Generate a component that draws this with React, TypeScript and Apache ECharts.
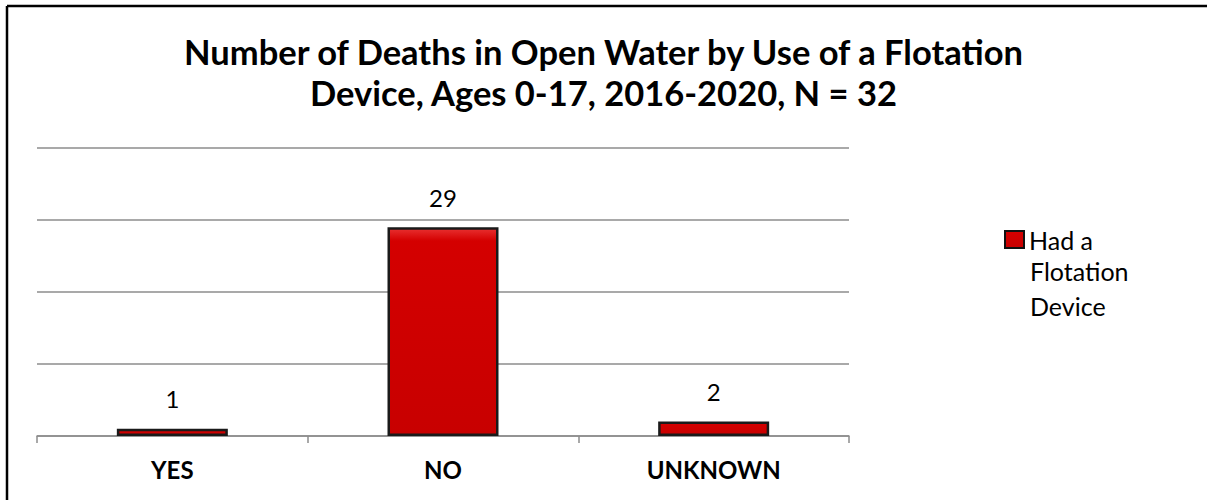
import React, { useEffect, useRef } from "react";
import * as echarts from "echarts";

const categories = ["YES", "NO", "UNKNOWN"];
const values = [1, 29, 2];
const seriesName = "Had a Flotation Device";
const titleText = "Number of Deaths in Open Water by Use of a Flotation\nDevice, Ages 0-17, 2016-2020, N = 32";

export default function App() {
  const ref = useRef<HTMLDivElement>(null);
  useEffect(() => {
    if (!ref.current) return;
    const chart = echarts.init(ref.current, null, { renderer: "svg" });
    const font = "Lato, 'Noto Sans', sans-serif";
    chart.setOption({
      animation: false,
      backgroundColor: "#ffffff",
      title: {
        text: titleText,
        left: "center",
        top: 26,
        padding: 5,
        textStyle: {
          fontFamily: font,
          fontWeight: "bold",
          fontSize: 34.5,
          lineHeight: 41,
          color: "#000",
        },
      },
      legend: {
        left: 1004,
        top: 227,
        padding: 0,
        itemWidth: 19,
        itemHeight: 17,
        itemGap: 0,
        data: [{ name: seriesName, icon: "rect" }],
        formatter: () => "Had a",
        textStyle: { fontFamily: font, fontSize: 25, color: "#000" },
        itemStyle: { borderColor: "#111", borderWidth: 2 },
      },
      grid: { left: 37, right: 358, top: 148, bottom: 64, containLabel: false },
      xAxis: {
        type: "category",
        data: categories,
        axisLine: { lineStyle: { color: "#8c8c8c", width: 1.5 } },
        axisTick: { show: true, length: 7, lineStyle: { color: "#8c8c8c", width: 1.5 } },
        axisLabel: {
          fontFamily: font,
          fontWeight: "bold",
          fontSize: 24,
          color: "#000",
          margin: 21,
        },
      },
      yAxis: {
        type: "value",
        min: 0,
        max: 40,
        interval: 10,
        axisLabel: { show: false },
        axisLine: { show: false },
        axisTick: { show: false },
        splitLine: { lineStyle: { color: "#8c8c8c", width: 1.5 } },
      },
      series: [
        {
          name: seriesName,
          type: "bar",
          data: values,
          barWidth: 111,
          itemStyle: {
            color: {
              type: "linear",
              x: 0, y: 0, x2: 0, y2: 1,
              colorStops: [
                { offset: 0, color: "#e83030" },
                { offset: 0.06, color: "#d40000" },
                { offset: 1, color: "#c80000" },
              ],
            },
            borderColor: "#1a1a1a",
            borderWidth: 2.5,
          },
          label: {
            show: true,
            position: "top",
            distance: 18,
            fontFamily: font,
            fontSize: 24,
            color: "#000",
          },
        },
      ],
      graphic: [
        {
          type: "line",
          shape: { x1: 7, y1: 6, x2: 1207, y2: 6 },
          style: { stroke: "#000", lineWidth: 2.5 },
          silent: true,
        },
        {
          type: "line",
          shape: { x1: 7, y1: 6, x2: 7, y2: 500 },
          style: { stroke: "#000", lineWidth: 2.5 },
          silent: true,
        },
        {
          type: "text",
          left: 1030,
          top: 253,
          style: {
            text: "Flotation\nDevice",
            font: "25px Lato, 'Noto Sans', sans-serif",
            lineHeight: 35,
            fill: "#000",
          },
        },
      ],
    });
    return () => chart.dispose();
  }, []);
  return (
    <div
      ref={ref}
      style={{ position: "fixed", left: 0, top: 0, width: 1207, height: 500 }}
    />
  );
}
